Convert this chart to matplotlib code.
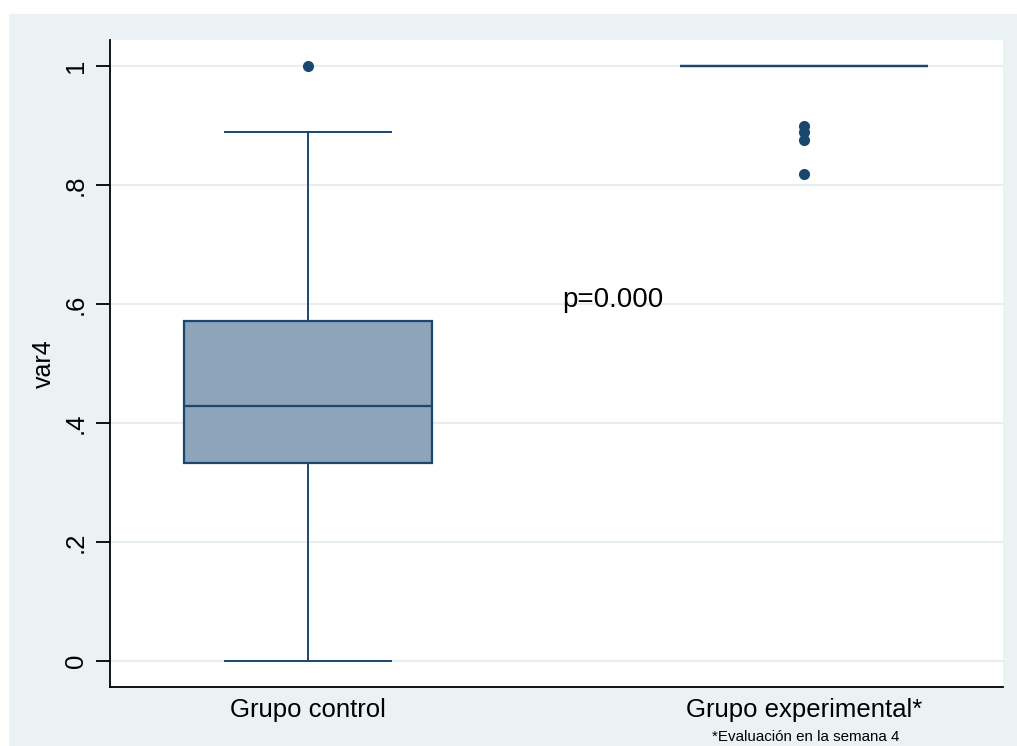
import matplotlib
matplotlib.use("Agg")
import matplotlib.pyplot as plt
from matplotlib.patches import Rectangle

plt.rcParams['font.family'] = ['Liberation Sans', 'DejaVu Sans']

# box plot summary values
groups = ["Grupo control", "Grupo experimental*"]
q1 = [0.333, 1.0]
med = [0.4286, 1.0]
q3 = [0.571, 1.0]
whislo = [0.0, 1.0]
whishi = [0.889, 1.0]
outliers = [[1.0], [0.9, 0.889, 0.875, 0.818]]
yticks = [0, 0.2, 0.4, 0.6, 0.8, 1.0]
yticklabels = ["0", ".2", ".4", ".6", ".8", "1"]

navy = "#1A476F"
fill = "#8DA3B8"
bg = "#EAF2F3"

fig = plt.figure(figsize=(10.17, 7.46), dpi=100, facecolor="white")
# outer stata-like background (image is cropped on top/left)
fig.patches.append(Rectangle((9 / 1017, 0), 1, (746 - 14) / 746,
                             transform=fig.transFigure, facecolor=bg,
                             edgecolor="none", zorder=-10))

ax = fig.add_axes([110 / 1017, 59 / 746, (1003 - 110) / 1017, (687 - 40) / 746])
ax.set_facecolor("white")

stats = []
for i in range(len(groups)):
    stats.append(dict(q1=q1[i], med=med[i], q3=q3[i], whislo=whislo[i],
                      whishi=whishi[i], fliers=outliers[i], label=groups[i]))

ax.bxp(stats, positions=[1, 2], widths=0.5, capwidths=0.333,
       patch_artist=True, showfliers=True,
       boxprops=dict(facecolor=fill, edgecolor=navy, linewidth=1.6),
       medianprops=dict(color=navy, linewidth=1.6),
       whiskerprops=dict(color=navy, linewidth=1.4),
       capprops=dict(color=navy, linewidth=1.4),
       flierprops=dict(marker='o', markerfacecolor=navy, markeredgecolor=navy,
                       markersize=7))

ax.set_xlim(0.6008, 2.401)
ax.set_ylim(-0.0437, 1.0437)
ax.set_yticks(yticks)
ax.set_yticklabels(yticklabels, rotation=90, va="center", fontsize=18.5)
ax.tick_params(axis='y', length=10, width=1.3, pad=6)
ax.tick_params(axis='x', length=0, labelsize=18.5, pad=8)
ax.yaxis.grid(True, color="#E6EEF0", linewidth=1.5)
ax.set_axisbelow(True)
for s in ["top", "right"]:
    ax.spines[s].set_visible(False)
for s in ["left", "bottom"]:
    ax.spines[s].set_linewidth(1.3)
ax.set_ylabel("var4", fontsize=18, labelpad=6)

ax.text(1.512, 0.607, "p=0.000", fontsize=20, ha="left", va="center")
fig.text(806 / 1017, 1 - 737 / 746, "*Evaluación en la semana 4",
         fontsize=10.9, ha="center", va="center")

fig.savefig("out.png", dpi=100, facecolor=fig.get_facecolor())
